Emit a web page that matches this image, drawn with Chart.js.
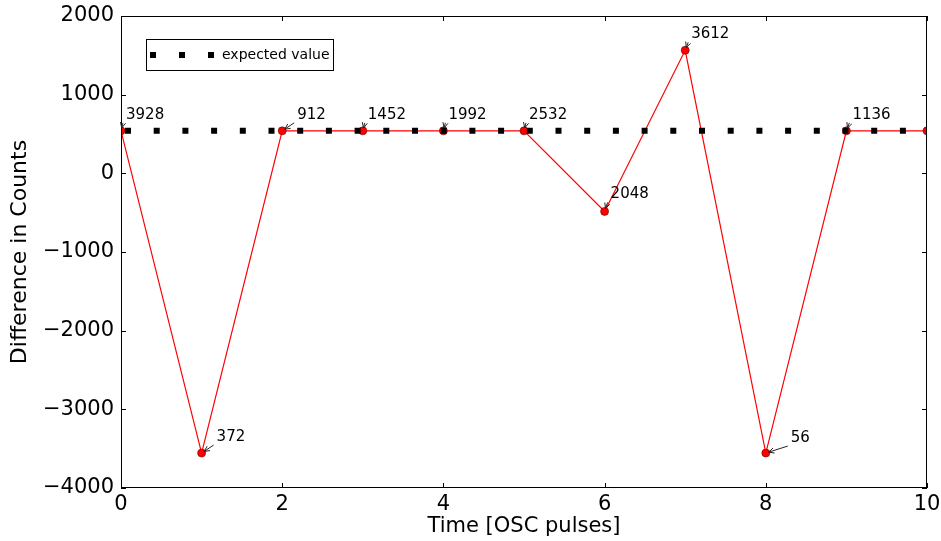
<!DOCTYPE html>
<html>
<head>
<meta charset="utf-8">
<script src="https://cdn.jsdelivr.net/npm/chart.js@4"></script>
<style>
  html, body { margin: 0; padding: 0; background: #fff; }
  #wrap { width: 941px; height: 541px; }
</style>
</head>
<body>
<div id="wrap"><canvas id="diffChart" width="941" height="541"></canvas></div>
<script>
// Data
const pulses = [0, 1, 2, 3, 4, 5, 6, 7, 8, 9, 10];
const diffCounts = [540, -3556, 540, 540, 540, 540, -484, 1564, -3556, 540, 540];
const expectedX = [0, 10];
const expectedY = [540, 540];
const pointLabels = ['3928', '372', '912', '1452', '1992', '2532', '2048', '3612', '56', '1136'];
const xTicks = [0, 2, 4, 6, 8, 10];
const yTicks = [-4000, -3000, -2000, -1000, 0, 1000, 2000];

// where each label sits relative to its point (px)
const labelOffsets = [[5, -16], [15, -16], [15, -16], [5, -16], [5, -16], [5, -16], [6, -17], [6, -16], [25, -15], [6, -16]];

const mainFont = "'DejaVu Sans', sans-serif";
const fmt = v => String(v).replace('-', '\u2212');

// frame, inward ticks, legend and arrows
const decor = {
    id: 'decor',
    afterDatasetsDraw(chart) {
        const { ctx, chartArea: a, scales } = chart;
        ctx.save();
        ctx.strokeStyle = '#000';
        ctx.lineWidth = 1;
        ctx.beginPath();
        xTicks.forEach(v => {
            const px = Math.round(scales.x.getPixelForValue(v)) + 0.5;
            ctx.moveTo(px, a.bottom); ctx.lineTo(px, a.bottom - 5);
            ctx.moveTo(px, a.top); ctx.lineTo(px, a.top + 5);
        });
        yTicks.forEach(v => {
            const py = Math.round(scales.y.getPixelForValue(v)) + 0.5;
            ctx.moveTo(a.left, py); ctx.lineTo(a.left + 5, py);
            ctx.moveTo(a.right, py); ctx.lineTo(a.right - 5, py);
        });
        ctx.stroke();
        ctx.strokeRect(Math.round(a.left) + 0.5, Math.round(a.top) + 0.5,
            Math.round(a.right - a.left) - 1, Math.round(a.bottom - a.top) - 1);

        // annotations
        ctx.font = '15px ' + mainFont;
        ctx.textBaseline = 'middle';
        ctx.fillStyle = '#000';
        pointLabels.forEach((txt, i) => {
            const px = scales.x.getPixelForValue(pulses[i]);
            const py = scales.y.getPixelForValue(diffCounts[i]);
            const [dx, dy] = labelOffsets[i];
            const tx = px + dx, ty = py + dy;
            ctx.fillText(txt, tx, ty);
            // arrow
            const sx = tx - 3, sy = ty + 8;
            const ang = Math.atan2(py - sy, px - sx);
            const ex = px - Math.cos(ang) * 3, ey = py - Math.sin(ang) * 3;
            ctx.beginPath();
            ctx.moveTo(sx, sy); ctx.lineTo(ex, ey);
            ctx.moveTo(ex - Math.cos(ang - 0.45) * 6, ey - Math.sin(ang - 0.45) * 6);
            ctx.lineTo(ex, ey);
            ctx.lineTo(ex - Math.cos(ang + 0.45) * 6, ey - Math.sin(ang + 0.45) * 6);
            ctx.strokeStyle = '#222';
            ctx.stroke();
        });

        // legend
        const lx = a.left + 25, ly = a.top + 23;
        ctx.fillStyle = '#fff';
        ctx.fillRect(lx, ly, 187, 31);
        ctx.strokeStyle = '#000';
        ctx.strokeRect(lx + 0.5, ly + 0.5, 187, 31);
        ctx.fillStyle = '#000';
        [7, 36, 65].forEach(o => ctx.fillRect(lx + o - 3, ly + 13, 6, 6));
        ctx.font = '14px ' + mainFont;
        ctx.fillText('expected value', lx + 76, ly + 16);
        ctx.restore();
    }
};

new Chart(document.getElementById('diffChart'), {
    type: 'line',
    data: {
        datasets: [{
            label: 'difference',
            data: pulses.map((x, i) => ({ x, y: diffCounts[i] })),
            borderColor: '#ff0000',
            borderWidth: 1.2,
            pointRadius: 4,
            pointBackgroundColor: '#ff0000',
            pointBorderColor: '#600',
            pointBorderWidth: 0.6,
            tension: 0,
            clip: 0,
            order: 2
        }, {
            label: 'expected value',
            data: expectedX.map((x, i) => ({ x, y: expectedY[i] })),
            borderColor: '#000',
            borderWidth: 6,
            borderDash: [6, 22.7],
            borderDashOffset: 24.7,
            borderCapStyle: 'butt',
            pointRadius: 0,
            clip: 0,
            order: 1
        }]
    },
    options: {
        responsive: false,
        devicePixelRatio: 1,
        animation: false,
        layout: { padding: { top: 16, right: 14, bottom: 0, left: 0 } },
        plugins: { legend: { display: false }, tooltip: { enabled: false } },
        scales: {
            x: {
                type: 'linear',
                min: 0, max: 10,
                afterBuildTicks: s => { s.ticks = xTicks.map(v => ({ value: v })); },
                afterFit: s => { s.height = 53; s.paddingLeft = 0; s.paddingRight = 0; },
                grid: { display: false, drawTicks: false },
                border: { display: false },
                ticks: {
                    color: '#000', padding: 4, maxRotation: 0,
                    font: { family: mainFont, size: 21 },
                    callback: fmt
                },
                title: {
                    display: true, text: 'Time [OSC pulses]', color: '#000',
                    font: { family: mainFont, size: 21 },
                    padding: { top: 0, bottom: 2 }
                }
            },
            y: {
                min: -4000, max: 2000,
                afterBuildTicks: s => { s.ticks = yTicks.map(v => ({ value: v })); },
                afterFit: s => { s.width = 121; s.paddingTop = 0; s.paddingBottom = 0; },
                grid: { display: false, drawTicks: false },
                border: { display: false },
                ticks: {
                    color: '#000', padding: 7,
                    font: { family: mainFont, size: 21 },
                    callback: fmt
                },
                title: {
                    display: true, text: 'Difference in Counts', color: '#000',
                    font: { family: mainFont, size: 22 },
                    padding: { top: 7, bottom: 0 }
                }
            }
        }
    },
    plugins: [decor]
});
</script>
</body>
</html>
